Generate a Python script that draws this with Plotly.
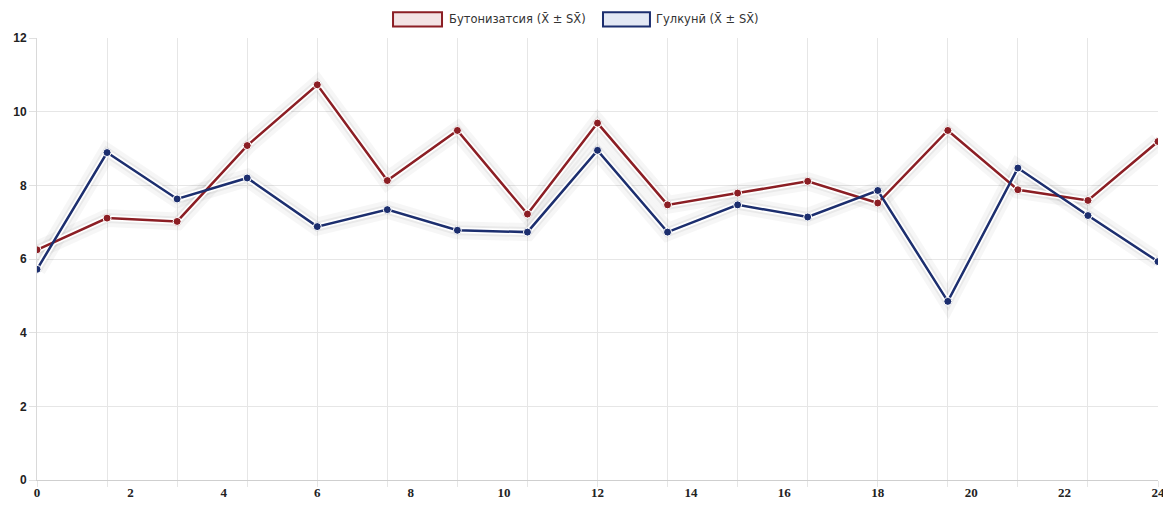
import plotly.graph_objects as go

# time points (every 1.5 units) and the two series
x_vals = [0, 1.5, 3, 4.5, 6, 7.5, 9, 10.5, 12, 13.5, 15, 16.5, 18, 19.5, 21, 22.5, 24]
buton = [6.25, 7.11, 7.02, 9.08, 10.73, 8.13, 9.49, 7.22, 9.69, 7.47, 7.79, 8.11, 7.52, 9.49, 7.88, 7.59, 9.19]
gulkuni = [5.72, 8.89, 7.63, 8.20, 6.88, 7.34, 6.78, 6.73, 8.95, 6.73, 7.47, 7.14, 7.86, 4.85, 8.47, 7.18, 5.93]

names = ['Бутонизатсия (X̄ ± SX̄)', 'Гулкунӣ (X̄ ± SX̄)']
colors = ['#8b1e24', '#1c2e6e']
fills = ['#f3e3e4', '#e3e8f4']
x_ticks = list(range(0, 25, 2))
y_ticks = list(range(0, 13, 2))

fig = go.Figure()

for ys in [buton, gulkuni]:
    # soft shadow under each line
    fig.add_trace(go.Scatter(x=x_vals, y=ys, mode='lines', hoverinfo='skip', showlegend=False,
                             line=dict(color='rgba(0,0,0,0.035)', width=18)))
    fig.add_trace(go.Scatter(x=x_vals, y=ys, mode='lines', hoverinfo='skip', showlegend=False,
                             line=dict(color='rgba(0,0,0,0.05)', width=10)))
for ys in [buton, gulkuni]:
    # white halo
    fig.add_trace(go.Scatter(x=x_vals, y=ys, mode='lines', hoverinfo='skip', showlegend=False,
                             line=dict(color='white', width=6)))
for ys, c, n in zip([buton, gulkuni], colors, names):
    fig.add_trace(go.Scatter(x=x_vals, y=ys, mode='lines+markers', name=n, showlegend=False,
                             line=dict(color=c, width=2.5),
                             marker=dict(size=8, color=c, line=dict(color='white', width=1))))

# dummy trace to carry the vertical grid on the second x axis
fig.add_trace(go.Scatter(x=x_vals, y=[None] * len(x_vals), xaxis='x2', showlegend=False, hoverinfo='skip'))

# legend drawn as Chart.js style boxes
legend_pos = [(0.3176, 0.3613), (0.5049, 0.5468)]
for (x0, x1), c, f, n in zip(legend_pos, colors, fills, names):
    fig.add_shape(type='rect', xref='paper', yref='paper', x0=x0, x1=x1, y0=1.026, y1=1.058,
                  line=dict(color=c, width=2), fillcolor=f)
    fig.add_annotation(xref='paper', yref='paper', x=x1 + 0.004, y=1.042, text=n, showarrow=False,
                       xanchor='left', yanchor='middle',
                       font=dict(family='DejaVu Sans, Verdana, sans-serif', size=11.5, color='#333'))

# page body has an 8px margin, so the figure is sized/offset to compensate
fig.update_layout(
    width=1163, height=498,
    margin=dict(l=29, r=13, t=30, b=26),
    plot_bgcolor='white', paper_bgcolor='white',
    font=dict(family='Liberation Sans, Arial, sans-serif', color='#333'),
    xaxis=dict(range=[0, 24], tickvals=x_ticks, showgrid=False, zeroline=False, automargin=False,
               showline=True, linecolor='#cfcfcf', ticks='', ticklen=0,
               tickfont=dict(family='Liberation Serif, Times New Roman, serif', size=13,
                             color='#222', weight='bold')),
    xaxis2=dict(range=[0, 24], overlaying='x', tickvals=x_vals, showticklabels=False, automargin=False,
                showgrid=True, gridcolor='#e6e6e6', zeroline=False, ticks='outside',
                ticklen=6, tickcolor='#e6e6e6'),
    yaxis=dict(range=[0, 12], tickvals=y_ticks, showgrid=True, gridcolor='#e6e6e6', automargin=False,
               zeroline=False, showline=True, linecolor='#d9d9d9',
               ticks='outside', ticklen=7, tickcolor='#e0e0e0',
               tickfont=dict(size=12, color='#222', family='Liberation Sans, Arial, sans-serif',
                             weight='bold')),
    hovermode='closest',
)

fig.write_html("out.html")
